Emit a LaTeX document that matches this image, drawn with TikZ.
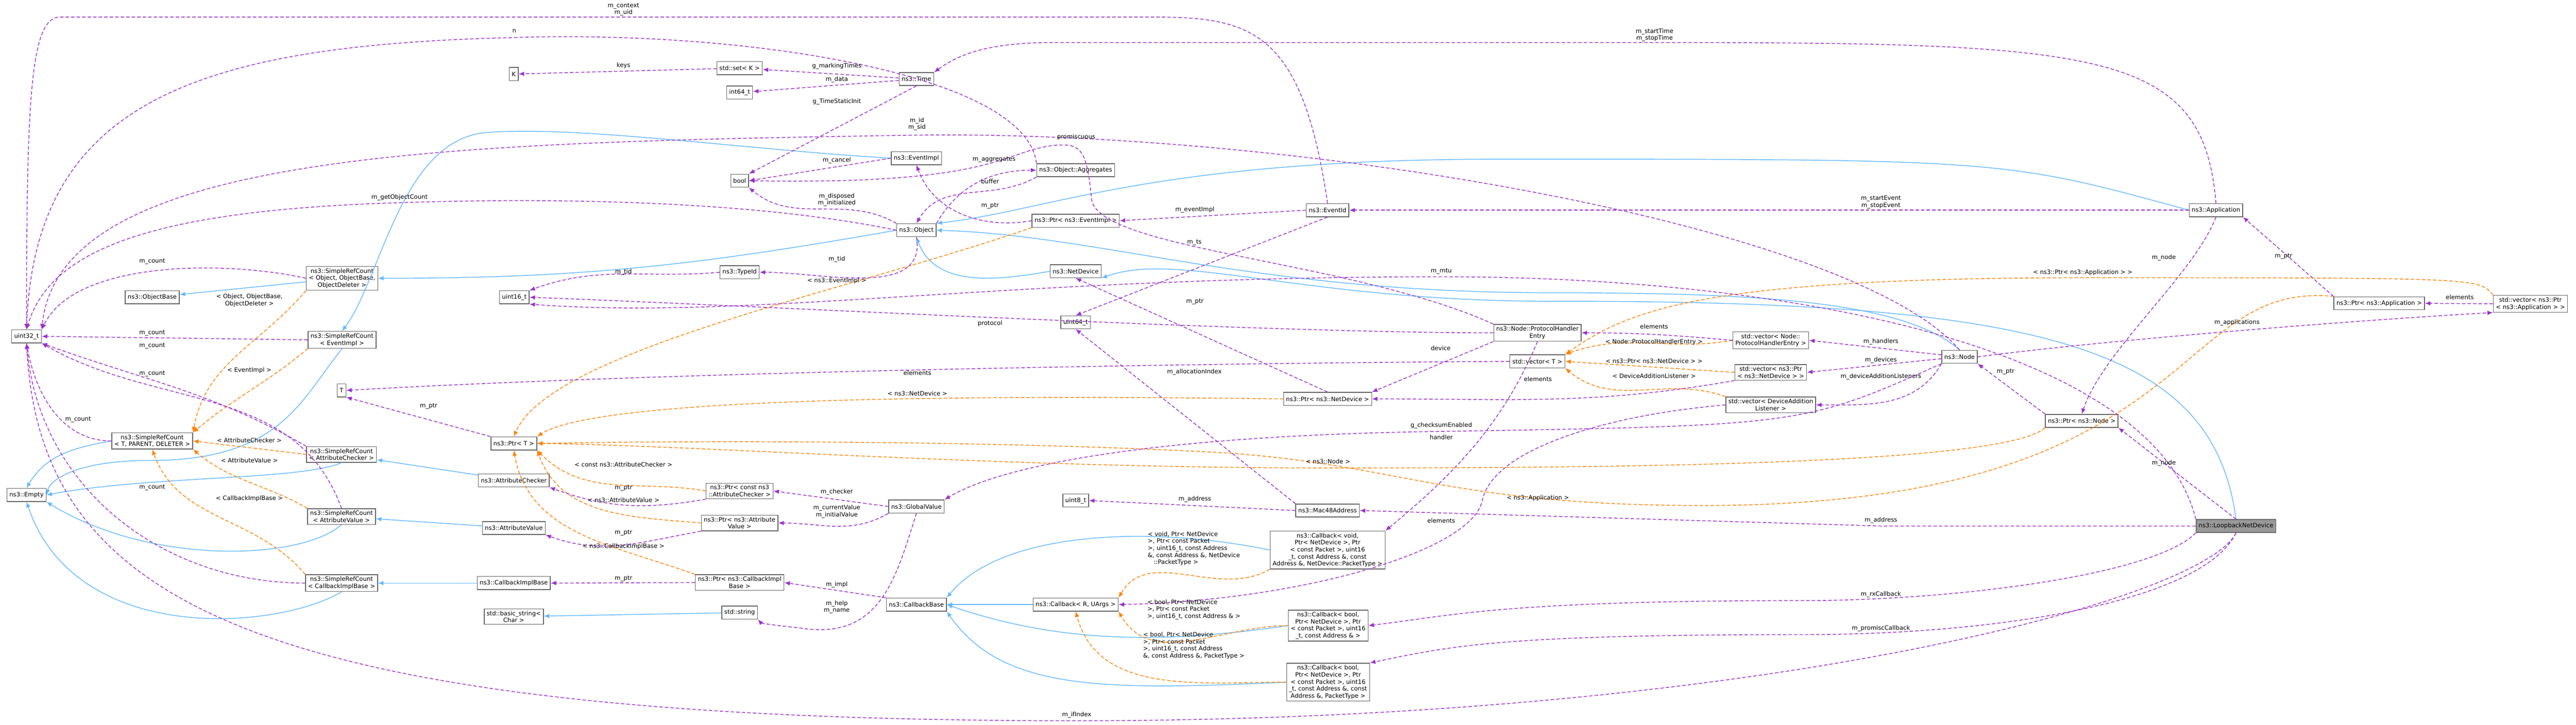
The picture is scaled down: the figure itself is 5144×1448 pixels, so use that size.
\documentclass[tikz,border=0pt]{standalone}
\usepackage{fontspec}
\setmainfont{DejaVu Sans}
\usetikzlibrary{arrows.meta}

\tikzset{
  cls/.style={draw=black!60, fill=white, line width=0.3pt, inner xsep=1pt, inner ysep=0.8pt,
    minimum height=5.2pt, align=center, font=\fontsize{2.4}{2.8}\selectfont},
  lbl/.style={inner sep=0pt, align=center, font=\fontsize{2.4}{2.8}\selectfont},
  use/.style={draw={rgb,255:red,154;green,50;blue,205}, line width=0.3pt, dash pattern=on 1.4pt off 0.8pt, -{Latex[length=2.2pt,width=1.8pt]}},
  tpl/.style={draw=orange, line width=0.3pt, dash pattern=on 1.4pt off 0.8pt, -{Latex[length=2.2pt,width=1.8pt]}},
  inh/.style={draw={rgb,255:red,99;green,184;blue,255}, line width=0.3pt, -{Latex[length=2.2pt,width=1.8pt]}}
}

\begin{document}
\begin{tikzpicture}[x=0.2pt, y=-0.2pt]
  \useasboundingbox (0,0) rectangle (5144,1448);

  % classes, column by column
  \node [cls] (u32) at (53,672) {uint32\_t};
  \node [cls] (empty) at (53,989) {ns3::Empty};
  \node [cls] (objbase) at (304,594) {ns3::ObjectBase};
  \node [cls] (srcT) at (304,881) {ns3::SimpleRefCount\\< T, PARENT, DELETER >};
  \node [cls] (srcObj) at (683,556) {ns3::SimpleRefCount\\< Object, ObjectBase,\\ ObjectDeleter >};
  \node [cls] (srcEv) at (683,679) {ns3::SimpleRefCount\\< EventImpl >};
  \node [cls] (tT) at (682,780) {T};
  \node [cls] (srcAC) at (682,908) {ns3::SimpleRefCount\\< AttributeChecker >};
  \node [cls] (srcAV) at (682,1032) {ns3::SimpleRefCount\\< AttributeValue >};
  \node [cls] (srcCIB) at (682,1165) {ns3::SimpleRefCount\\< CallbackImplBase >};
  \node [cls] (kK) at (1026,148) {K};
  \node [cls] (u16) at (1027,594) {uint16\_t};
  \node [cls] (ptrT) at (1026,886) {ns3::Ptr< T >};
  \node [cls] (ac) at (1026,960) {ns3::AttributeChecker};
  \node [cls] (av) at (1026,1055) {ns3::AttributeValue};
  \node [cls] (cib) at (1026,1165) {ns3::CallbackImplBase};
  \node [cls] (bstr) at (1026,1232) {std::basic\_string<\\ Char >};
  \node [cls] (setK) at (1477,136) {std::set< K >};
  \node [cls] (i64) at (1477,185) {int64\_t};
  \node [cls] (bool) at (1477,361) {bool};
  \node [cls] (typeid) at (1477,544) {ns3::TypeId};
  \node [cls] (ptrAC) at (1477,981) {ns3::Ptr< const ns3\\::AttributeChecker >};
  \node [cls] (ptrAV) at (1477,1045) {ns3::Ptr< ns3::Attribute\\Value >};
  \node [cls] (ptrCIB) at (1477,1164) {ns3::Ptr< ns3::CallbackImpl\\Base >};
  \node [cls] (str) at (1477,1224) {std::string};
  \node [cls] (time) at (1830,158) {ns3::Time};
  \node [cls] (evimpl) at (1830,316) {ns3::EventImpl};
  \node [cls] (obj) at (1830,460) {ns3::Object};
  \node [cls] (gv) at (1830,1012) {ns3::GlobalValue};
  \node [cls] (cbbase) at (1830,1208) {ns3::CallbackBase};
  \node [cls] (aggr) at (2148,340) {ns3::Object::Aggregates};
  \node [cls] (ptrEv) at (2148,441) {ns3::Ptr< ns3::EventImpl >};
  \node [cls] (netdev) at (2148,542) {ns3::NetDevice};
  \node [cls] (u64) at (2148,644) {uint64\_t};
  \node [cls] (u8) at (2148,1000) {uint8\_t};
  \node [cls] (cbR) at (2148,1208) {ns3::Callback< R, UArgs >};
  \node [cls] (eventid) at (2651,420) {ns3::EventId};
  \node [cls] (ptrND) at (2651,797) {ns3::Ptr< ns3::NetDevice >};
  \node [cls] (mac) at (2651,1020) {ns3::Mac48Address};
  \node [cls] (cbVoid) at (2651,1099) {ns3::Callback< void,\\ Ptr< NetDevice >, Ptr\\< const Packet >, uint16\\\_t, const Address \&, const\\ Address \&, NetDevice::PacketType >};
  \node [cls] (cbBoolA) at (2652,1250) {ns3::Callback< bool,\\ Ptr< NetDevice >, Ptr\\< const Packet >, uint16\\\_t, const Address \& >};
  \node [cls] (cbBoolB) at (2652,1363) {ns3::Callback< bool,\\ Ptr< NetDevice >, Ptr\\< const Packet >, uint16\\\_t, const Address \&, const\\ Address \&, PacketType >};
  \node [cls] (phe) at (3070,665) {ns3::Node::ProtocolHandler\\Entry};
  \node [cls] (vecT) at (3070,722) {std::vector< T >};
  \node [cls] (vecPHE) at (3536,680) {std::vector< Node::\\ProtocolHandlerEntry >};
  \node [cls] (vecND) at (3536,744) {std::vector< ns3::Ptr\\< ns3::NetDevice > >};
  \node [cls] (vecDAL) at (3536,809) {std::vector< DeviceAddition\\Listener >};
  \node [cls] (node) at (3913,713) {ns3::Node};
  \node [cls] (app) at (4425,420) {ns3::Application};
  \node [cls] (ptrNode) at (4157,841) {ns3::Ptr< ns3::Node >};
  \node [cls] (ptrApp) at (4751,606) {ns3::Ptr< ns3::Application >};
  \node [cls] (vecApp) at (5053,607) {std::vector< ns3::Ptr\\< ns3::Application > >};
  \node [cls, fill=black!40] (loop) at (4465,1051) {ns3::LoopbackNetDevice};

  % inheritance
  \draw [inh] (srcObj) -- (objbase);
  \draw [inh] (obj.west) to[out=190,in=0] (srcObj.east);
  \draw [inh] (evimpl.west) .. controls (1500,300) and (1150,250) .. (970,265) .. controls (800,280) and (760,560) .. (srcEv.north);
  \draw [inh] (srcEv.south) .. controls (600,800) and (560,920) .. (300,920) .. controls (150,920) and (100,960) .. (empty.east);
  \draw [inh] (srcT.west) to[out=190,in=60] (empty.north);
  \draw [inh] (srcAC.south) .. controls (600,960) and (300,950) .. (empty.east);
  \draw [inh] (srcAV.south) .. controls (600,1120) and (300,1130) .. (empty.south east);
  \draw [inh] (srcCIB.south) .. controls (550,1260) and (150,1290) .. (empty.south);
  \draw [inh] (ac) -- (srcAC);
  \draw [inh] (av) -- (srcAV);
  \draw [inh] (cib) -- (srcCIB);
  \draw [inh] (str) -- (bstr);
  \draw [inh] (netdev.west) to[out=190,in=-70] (obj.south);
  \draw [inh] (node.north) .. controls (3800,600) and (3500,585) .. (3100,585) .. controls (2500,585) and (2200,470) .. (obj.east);
  \draw [inh] (app.west) .. controls (4000,318) .. (3000,318) .. controls (2300,318) and (2100,420) .. (obj.north east);
  \draw [inh] (loop.north) .. controls (4420,700) and (4100,600) .. (3100,602) .. controls (2600,602) and (2350,500) .. (netdev.south east);
  \draw [inh] (cbR) -- (cbbase);
  \draw [inh] (cbVoid.west) .. controls (2300,1050) and (2000,1060) .. (cbbase.north east);
  \draw [inh] (cbBoolA.west) .. controls (2300,1290) and (2100,1280) .. (cbbase.east);
  \draw [inh] (cbBoolB.west) .. controls (2200,1380) and (2000,1380) .. (cbbase.south east);

  % template instances
  \draw [tpl] (srcObj.south west) to[out=-130,in=80] (srcT.north east);
  \draw [tpl] (srcEv.south west) to[out=-140,in=40] (srcT.north east);
  \draw [tpl] (srcAC.west) -- (srcT.east);
  \draw [tpl] (srcAV.north west) to[out=150,in=-40] (srcT.south east);
  \draw [tpl] (srcCIB.north west) to[out=130,in=-70] (srcT.south);
  \draw [tpl] (ptrEv.south west) .. controls (1700,580) and (1100,700) .. (ptrT.north);
  \draw [tpl] (ptrND.west) .. controls (2000,790) and (1200,790) .. (ptrT.north east);
  \draw [tpl] (ptrAC.west) to[out=170,in=-45] (ptrT.south east);
  \draw [tpl] (ptrAV.west) to[out=175,in=-70] (ptrT.south east);
  \draw [tpl] (ptrCIB.north west) to[out=160,in=-80] (ptrT.south);
  \draw [tpl] (ptrNode.south west) .. controls (4000,930) and (3200,935) .. (2652,935) .. controls (2000,935) and (1400,890) .. (ptrT.east);
  \draw [tpl] (ptrApp.north west) .. controls (4330,560) and (4400,1010) .. (3400,1010) .. controls (2900,1010) and (2800,930) .. (2450,905) .. controls (2000,880) and (1400,880) .. (ptrT.east);
  \draw [tpl] (vecPHE.west) to[out=190,in=20] (vecT.north east);
  \draw [tpl] (vecND.west) -- (vecT.east);
  \draw [tpl] (vecDAL.north west) to[out=160,in=-40] (vecT.south east);
  \draw [tpl] (vecApp.north west) .. controls (4950,555) .. (4159,555) .. controls (3400,555) and (3250,620) .. (vecT.north east);
  \draw [tpl] (cbVoid.south west) to[out=-150,in=60] (cbR.north east);
  \draw [tpl] (cbBoolA.west) to[out=180,in=-60] (cbR.south east);
  \draw [tpl] (cbBoolB.west) to[out=180,in=-75] (cbR.south);

  % members
  \draw [use] (eventid.north) .. controls (2600,60) and (2500,34) .. (2300,34) -- (120,34) .. controls (60,34) and (53,200) .. (u32.north);
  \node [lbl] (lCtx) at (1245,19) {m\_context\\m\_uid};
  \draw [use] (aggr.north west) .. controls (2050,150) and (1500,60) .. (1027,75) .. controls (400,90) and (70,200) .. (u32.north);
  \node [lbl] (lN) at (1027,62) {n};
  \draw [use] (node.north) .. controls (3700,450) and (2600,260) .. (1831,270) .. controls (900,285) and (120,300) .. (u32.north east);
  \node [lbl] (lId) at (1831,248) {m\_id\\m\_sid};
  \draw [use] (obj.west) .. controls (1500,400) and (1100,395) .. (798,405) .. controls (300,420) and (100,500) .. (u32.north);
  \node [lbl] (lGet) at (798,395) {m\_getObjectCount};
  \draw [use] (srcObj.west) .. controls (450,520) and (150,520) .. (u32.north east);
  \node [lbl] (lCnt1) at (304,522) {m\_count};
  \draw [use] (srcEv.west) -- (u32.east);
  \node [lbl] (lCnt2) at (304,665) {m\_count};
  \draw [use] (srcAC.north west) to[out=150,in=-20] (u32.south east);
  \node [lbl] (lCnt3) at (304,691) {m\_count};
  \draw [use] (srcAV.north) to[out=110,in=-30] (u32.south east);
  \node [lbl] (lCnt4) at (304,747) {m\_count};
  \draw [use] (srcT.west) to[out=180,in=-80] (u32.south);
  \node [lbl] (lCnt5) at (156,838) {m\_count};
  \draw [use] (srcCIB.west) to[out=180,in=-85] (u32.south);
  \node [lbl] (lCnt6) at (304,974) {m\_count};
  \draw [use] (loop.south) .. controls (4400,1200) and (3500,1440) .. (2150,1440) .. controls (500,1440) and (80,1200) .. (u32.south);
  \node [lbl] (lIf) at (2150,1428) {m\_ifIndex};

  \draw [use] (setK) -- (kK);
  \node [lbl] (lKeys) at (1245,131) {keys};
  \draw [use] (time) -- (setK);
  \node [lbl] (lMark) at (1671,132) {g\_markingTimes};
  \draw [use] (time) -- (i64);
  \node [lbl] (lData) at (1671,159) {m\_data};
  \draw [use] (time.south) -- (bool.north east);
  \node [lbl] (lInit) at (1671,203) {g\_TimeStaticInit};
  \draw [use] (app.north) .. controls (4400,100) and (4200,85) .. (3304,85) -- (2100,85) .. controls (1950,85) and (1900,120) .. (time.north east);
  \node [lbl] (lStart) at (3304,70) {m\_startTime\\m\_stopTime};
  \draw [use] (evimpl.west) -- (bool.east);
  \node [lbl] (lCancel) at (1671,320) {m\_cancel};
  \draw [use] (obj.north west) to[out=150,in=-40] (bool.south east);
  \node [lbl] (lDisp) at (1671,399) {m\_disposed\\m\_initialized};
  \draw [use] (phe.north west) .. controls (2700,520) and (2200,500) .. (2180,400) .. controls (2170,300) and (2160,287) .. (2110,290) .. controls (2000,300) and (2000,370) .. (bool.east);
  \node [lbl] (lProm) at (2149,274) {promiscuous};
  \draw [use] (obj.north east) to[out=60,in=180] (aggr.west);
  \node [lbl] (lAggr) at (1985,319) {m\_aggregates};
  \draw [use] (aggr.south west) to[out=-150,in=60] (obj.north);
  \node [lbl] (lBuf) at (1977,362) {buffer};
  \draw [use] (ptrEv.west) to[out=190,in=-70] (evimpl.south);
  \node [lbl] (lPtrEv) at (1977,411) {m\_ptr};
  \draw [use] (eventid.west) -- (ptrEv.east);
  \node [lbl] (lEvImpl) at (2386,419) {m\_eventImpl};
  \draw [use] (eventid.south) -- (u64.north);
  \node [lbl] (lTs) at (2385,484) {m\_ts};
  \draw [use] (obj.south) to[out=-80,in=0] (typeid.east);
  \node [lbl] (lTid1) at (1671,518) {m\_tid};
  \draw [use] (typeid.west) to[out=185,in=20] (u16.north east);
  \node [lbl] (lTid2) at (1245,544) {m\_tid};
  \draw [use] (phe.west) .. controls (2500,665) and (1500,610) .. (u16.east);
  \node [lbl] (lProto) at (1977,646) {protocol};
  \draw [use] (loop.north west) .. controls (4300,700) and (3600,553) .. (2878,553) .. controls (2000,553) and (1500,640) .. (u16.south east);
  \node [lbl] (lMtu) at (2878,542) {m\_mtu};
  \draw [use] (vecT.west) .. controls (2500,725) and (1400,740) .. (tT.east);
  \node [lbl] (lElT) at (1832,745) {elements};
  \draw [use] (ptrT.north west) -- (tT.south east);
  \node [lbl] (lPtrT) at (856,811) {m\_ptr};
  \draw [use] (ptrND.north) -- (netdev.south);
  \node [lbl] (lPtrND) at (2386,603) {m\_ptr};
  \draw [use] (phe.south west) -- (ptrND.north east);
  \node [lbl] (lDev) at (2877,696) {device};
  \draw [use] (vecND.south west) to[out=190,in=0] (ptrND.east);
  \node [lbl] (lElND) at (3071,757) {elements};
  \draw [use] (node) -- (vecPHE.east);
  \node [lbl] (lHand) at (3756,683) {m\_handlers};
  \draw [use] (node) -- (vecND.east);
  \node [lbl] (lDevs) at (3756,720) {m\_devices};
  \draw [use] (node.south west) to[out=-120,in=0] (vecDAL.east);
  \node [lbl] (lDal) at (3756,753) {m\_deviceAdditionListeners};
  \draw [use] (vecPHE.west) to[out=175,in=0] (phe.east);
  \node [lbl] (lElPhe) at (3303,652) {elements};
  \draw [use] (ptrAC.south west) to[out=-170,in=-20] (ac.south east);
  \node [lbl] (lPtrAC) at (1245,975) {m\_ptr};
  \draw [use] (ptrAV.south west) to[out=-170,in=-20] (av.south east);
  \node [lbl] (lPtrAV) at (1245,1065) {m\_ptr};
  \draw [use] (gv.west) -- (ptrAC.east);
  \node [lbl] (lChk) at (1671,983) {m\_checker};
  \draw [use] (gv.south west) to[out=-150,in=0] (ptrAV.east);
  \node [lbl] (lCur) at (1671,1022) {m\_currentValue\\m\_initialValue};
  \draw [use] (gv.south) .. controls (1790,1150) and (1760,1280) .. (1600,1255) .. controls (1550,1250) and (1520,1245) .. (str.south east);
  \node [lbl] (lHelp) at (1671,1213) {m\_help\\m\_name};
  \draw [use] (cbbase.north west) -- (ptrCIB.east);
  \node [lbl] (lImpl) at (1671,1168) {m\_impl};
  \draw [use] (ptrCIB.west) -- (cib.east);
  \node [lbl] (lPtrCib) at (1245,1156) {m\_ptr};
  \draw [use] (mac.west) -- (u8.east);
  \node [lbl] (lAddr1) at (2386,997) {m\_address};
  \draw [use] (loop.west) -- (3756,1051) -- (mac.east);
  \node [lbl] (lAddr2) at (3756,1040) {m\_address};
  \draw [use] (mac.north west) -- (u64.south);
  \node [lbl] (lAlloc) at (2385,743) {m\_allocationIndex};
  \draw [use] (node.south west) .. controls (3600,850) .. (2878,862) .. controls (2300,870) and (2000,930) .. (gv.north east);
  \node [lbl] (lChks) at (2878,850) {g\_checksumEnabled};
  \draw [use] (phe.south) .. controls (3000,850) and (2900,950) .. (cbVoid.north east);
  \node [lbl] (lHandler) at (2878,874) {handler};
  \draw [use] (vecDAL.west) .. controls (3200,830) and (2980,900) .. (2960,1000) .. controls (2940,1100) and (2600,1200) .. (cbR.east);
  \node [lbl] (lElDal) at (2878,1040) {elements};
  \draw [use] (ptrNode.north west) -- (node.south east);
  \node [lbl] (lPtrNode) at (4005,743) {m\_ptr};
  \draw [use] (app.south) .. controls (4380,550) and (4200,700) .. (ptrNode.north);
  \node [lbl] (lNode1) at (4321,515) {m\_node};
  \draw [use] (loop.north) -- (ptrNode.south east);
  \node [lbl] (lNode2) at (4321,925) {m\_node};
  \draw [use] (ptrApp.north west) -- (app.south east);
  \node [lbl] (lPtrApp) at (4560,512) {m\_ptr};
  \draw [use] (vecApp.west) -- (ptrApp.east);
  \node [lbl] (lElApp) at (4912,594) {elements};
  \draw [use] (node.east) .. controls (4200,680) and (4700,640) .. (vecApp.south west);
  \node [lbl] (lApps) at (4467,645) {m\_applications};
  \draw [use] (loop.south west) .. controls (4300,1150) and (3900,1200) .. (3600,1200) .. controls (3000,1200) and (2900,1230) .. (cbBoolA.east);
  \node [lbl] (lRx) at (3756,1188) {m\_rxCallback};
  \draw [use] (loop.south) .. controls (4400,1200) and (4000,1268) .. (3600,1268) .. controls (3000,1268) and (2900,1290) .. (cbBoolB.north east);
  \node [lbl] (lProm2) at (3756,1256) {m\_promiscCallback};
  \draw [use] (app.west) -- (eventid.east);
  \node [lbl] (lStEv) at (3756,404) {m\_startEvent\\m\_stopEvent};

  % template labels
  \node [lbl] (tObj) at (498,600) {< Object, ObjectBase,\\ObjectDeleter >};
  \node [lbl] (tEv) at (498,740) {< EventImpl >};
  \node [lbl] (tAC) at (498,880) {< AttributeChecker >};
  \node [lbl] (tAV) at (498,920) {< AttributeValue >};
  \node [lbl] (tCIB) at (498,996) {< CallbackImplBase >};
  \node [lbl] (tPEv) at (1671,561) {< ns3::EventImpl >};
  \node [lbl] (tPND) at (1832,786) {< ns3::NetDevice >};
  \node [lbl] (tPAC) at (1245,928) {< const ns3::AttributeChecker >};
  \node [lbl] (tPAV) at (1245,999) {< ns3::AttributeValue >};
  \node [lbl] (tPCIB) at (1245,1092) {< ns3::CallbackImplBase >};
  \node [lbl] (tPNode) at (2652,922) {< ns3::Node >};
  \node [lbl] (tPApp) at (3071,995) {< ns3::Application >};
  \node [lbl] (tVPhe) at (3303,683) {< Node::ProtocolHandlerEntry >};
  \node [lbl] (tVND) at (3303,721) {< ns3::Ptr< ns3::NetDevice > >};
  \node [lbl] (tVDal) at (3303,751) {< DeviceAdditionListener >};
  \node [lbl] (tVApp) at (4159,545) {< ns3::Ptr< ns3::Application > >};
  \node [lbl, align=left] (tCbVoid) at (2384,1096) {< void, Ptr< NetDevice\\>, Ptr< const Packet\\>, uint16\_t, const Address\\\&, const Address \&, NetDevice\\\quad ::PacketType >};
  \node [lbl, align=left] (tCbA) at (2384,1218) {< bool, Ptr< NetDevice\\>, Ptr< const Packet\\>, uint16\_t, const Address \& >};
  \node [lbl, align=left] (tCbB) at (2384,1290) {< bool, Ptr< NetDevice\\>, Ptr< const Packet\\>, uint16\_t, const Address\\\&, const Address \&, PacketType >};
\end{tikzpicture}
\end{document}
